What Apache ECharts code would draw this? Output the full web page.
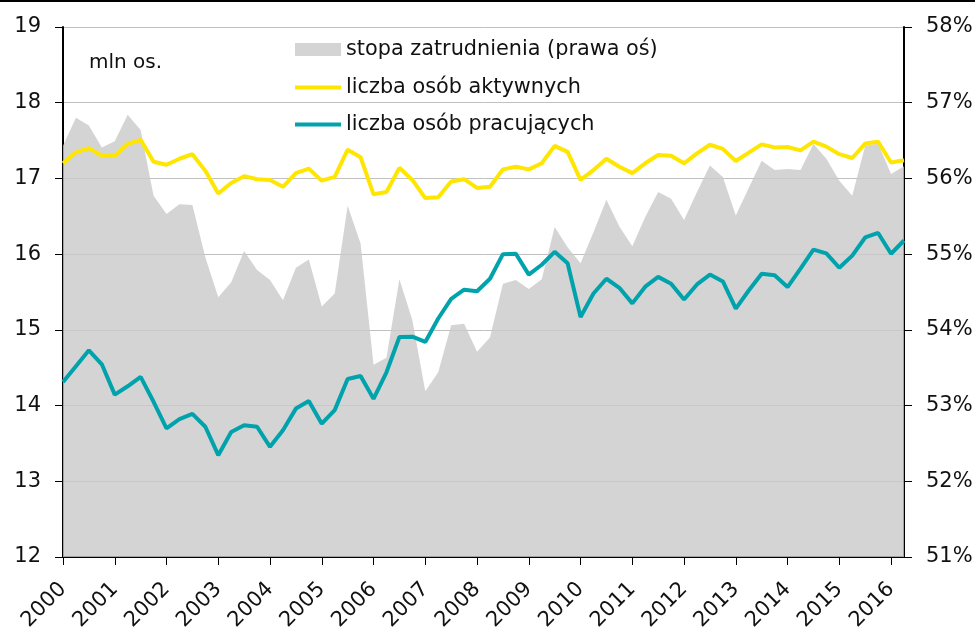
<!DOCTYPE html>
<html>
<head>
<meta charset="utf-8">
<script src="https://cdn.jsdelivr.net/npm/echarts@6/dist/echarts.min.js"></script>
<style>
  html, body { margin: 0; padding: 0; background: #fff; }
  #chart { width: 975px; height: 629px; }
</style>
</head>
<body>
<div id="chart"></div>
<script>
// lata na osi X, dane kwartalne 2000 Q1 - 2016 Q2
const years = [2000, 2001, 2002, 2003, 2004, 2005, 2006, 2007, 2008, 2009, 2010, 2011, 2012, 2013, 2014, 2015, 2016]
const quartersPerYear = 4
const pointCount = 66

// liczba osób aktywnych (mln)
const aktywni = [
  17.20, 17.345, 17.40, 17.30, 17.30, 17.455, 17.51, 17.22, 17.18, 17.26, 17.32, 17.10,
  16.80, 16.94, 17.03, 16.99, 16.98, 16.89, 17.07, 17.13, 16.97, 17.02, 17.38, 17.28,
  16.79, 16.82, 17.14, 16.98, 16.74, 16.75, 16.96, 16.99, 16.875, 16.89, 17.12, 17.155,
  17.12, 17.20, 17.43, 17.35, 16.98, 17.11, 17.26, 17.155, 17.07, 17.20, 17.31, 17.30,
  17.20, 17.33, 17.445, 17.39, 17.23, 17.34, 17.45, 17.41, 17.415, 17.37, 17.485, 17.42,
  17.32, 17.27, 17.46, 17.485, 17.21, 17.24
]

// liczba osób pracujących (mln)
const pracujacy = [
  14.31, 14.52, 14.73, 14.545, 14.145, 14.255, 14.38, 14.05, 13.70, 13.82, 13.89, 13.72,
  13.345, 13.65, 13.74, 13.72, 13.455, 13.675, 13.96, 14.06, 13.76, 13.94, 14.35, 14.39,
  14.09, 14.44, 14.905, 14.91, 14.84, 15.15, 15.41, 15.53, 15.51, 15.675, 16.00, 16.005,
  15.73, 15.86, 16.03, 15.88, 15.17, 15.48, 15.675, 15.555, 15.35, 15.57, 15.70, 15.61,
  15.40, 15.60, 15.73, 15.64, 15.28, 15.52, 15.74, 15.72, 15.565, 15.81, 16.06, 16.01,
  15.82, 15.98, 16.22, 16.28, 16.005, 16.18
]

// stopa zatrudnienia (%)
const stopa = [
  56.43, 56.80, 56.70, 56.41, 56.49, 56.84, 56.64, 55.77, 55.53, 55.66, 55.65, 54.96,
  54.43, 54.63, 55.04, 54.79, 54.66, 54.39, 54.82, 54.93, 54.31, 54.48, 55.64, 55.14,
  53.54, 53.63, 54.67, 54.13, 53.19, 53.44, 54.06, 54.08, 53.71, 53.90, 54.61, 54.66,
  54.54, 54.67, 55.36, 55.09, 54.88, 55.29, 55.72, 55.365, 55.105, 55.49, 55.82, 55.73,
  55.45, 55.82, 56.17, 56.02, 55.51, 55.875, 56.235, 56.11, 56.125, 56.11, 56.455, 56.26,
  55.97, 55.77, 56.43, 56.46, 56.06, 56.16
]

const leftTicks = { min: 12, max: 19, step: 1 }
const rightTicks = { min: 51, max: 58, step: 1 }

const seriesNames = ['stopa zatrudnienia (prawa oś)', 'liczba osób aktywnych', 'liczba osób pracujących']

// kategorie: rok + kwartał, na osi pokazujemy tylko rok
const categories = []
for (let i = 0; i < pointCount; i++) {
  const y = years[0] + Math.floor(i / quartersPerYear)
  categories.push(y + ' Q' + (i % quartersPerYear + 1))
}

const font = 'DejaVu Sans'
const legendText = { fontFamily: font, fontSize: 20.8, color: '#111' }

// osobna legenda dla każdej pozycji, żeby linie miały cienką ikonę
const makeLegend = (name, top, h) => ({
  orient: 'vertical',
  left: 295,
  top: top,
  padding: 0,
  itemWidth: 46,
  itemHeight: h,
  icon: 'rect',
  selectedMode: false,
  textStyle: legendText,
  data: [name]
})

const chart = echarts.init(document.getElementById('chart'))

chart.setOption({
  animation: false,
  textStyle: { fontFamily: font },
  grid: { left: 63, right: 71, top: 27, bottom: 72, outerBoundsMode: 'none', containLabel: false },
  legend: [
    makeLegend(seriesNames[0], 39, 13),
    makeLegend(seriesNames[1], 77, 4),
    makeLegend(seriesNames[2], 114, 4)
  ],
  graphic: [
    {
      type: 'text',
      left: 89,
      top: 53,
      style: { text: 'mln os.', font: '20px "DejaVu Sans"', fill: '#111' }
    },
    {
      type: 'line',
      shape: { x1: 0, y1: 1, x2: 975, y2: 1 },
      style: { stroke: '#000', lineWidth: 2 }
    }
  ],
  xAxis: {
    type: 'category',
    data: categories,
    boundaryGap: false,
    axisLine: { lineStyle: { color: '#000', width: 2 } },
    axisTick: { interval: 3, length: 8, lineStyle: { color: '#000', width: 1 } },
    axisLabel: {
      interval: 3,
      rotate: 45,
      margin: 29,
      fontSize: 21,
      color: '#111',
      formatter: v => v.slice(0, 4)
    },
    splitLine: { show: false }
  },
  yAxis: [
    {
      type: 'value',
      min: leftTicks.min,
      max: leftTicks.max,
      interval: leftTicks.step,
      axisLine: { show: true, lineStyle: { color: '#000', width: 2 } },
      axisTick: { show: true, length: 8, lineStyle: { color: '#000' } },
      axisLabel: { fontSize: 21, color: '#111', margin: 22 },
      splitLine: { lineStyle: { color: '#c0c0c0', width: 1 } }
    },
    {
      type: 'value',
      min: rightTicks.min,
      max: rightTicks.max,
      interval: rightTicks.step,
      position: 'right',
      axisLine: { show: true, lineStyle: { color: '#000', width: 2 } },
      axisTick: { show: true, length: 8, lineStyle: { color: '#000' } },
      axisLabel: { fontSize: 21, color: '#111', margin: 22, formatter: v => v + '%' },
      splitLine: { show: false }
    }
  ],
  series: [
    {
      name: seriesNames[0],
      type: 'line',
      yAxisIndex: 1,
      data: stopa,
      symbol: 'none',
      lineStyle: { width: 0 },
      itemStyle: { color: '#d4d4d4' },
      areaStyle: { color: '#c9c9c9', opacity: 0.8, origin: 'start' },
      z: 1
    },
    {
      name: seriesNames[1],
      type: 'line',
      data: aktywni,
      symbol: 'none',
      lineStyle: { color: '#ffe600', width: 4 },
      itemStyle: { color: '#ffe600' },
      z: 3
    },
    {
      name: seriesNames[2],
      type: 'line',
      data: pracujacy,
      symbol: 'none',
      lineStyle: { color: '#00a3ac', width: 4 },
      itemStyle: { color: '#00a3ac' },
      z: 3
    }
  ]
})
</script>
</body>
</html>
